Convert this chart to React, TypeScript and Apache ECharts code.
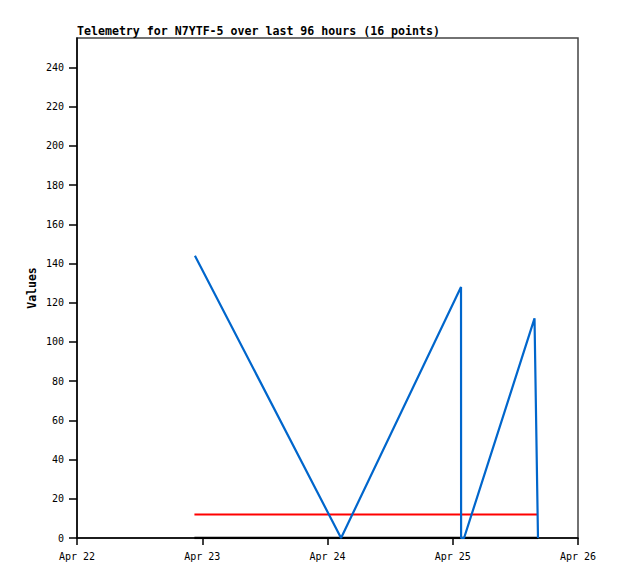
import React, { useEffect, useRef } from "react";
import * as echarts from "echarts";

const titleText = "Telemetry for N7YTF-5 over last 96 hours (16 points)";
const yAxisName = "Values";
const xMin = "2024-04-22T00:00:00Z";
const xMax = "2024-04-26T00:00:00Z";
const monthNames = ["Jan", "Feb", "Mar", "Apr", "May", "Jun", "Jul", "Aug", "Sep", "Oct", "Nov", "Dec"];

const blueTimes = [
  "2024-04-22T22:36:00Z",
  "2024-04-24T02:36:00Z",
  "2024-04-25T01:35:00Z",
  "2024-04-25T01:36:00Z",
  "2024-04-25T02:10:00Z",
  "2024-04-25T15:40:00Z",
  "2024-04-25T16:20:00Z",
];
const blueValues = [144, 0, 128, 0, 0, 112, 0];

const flatTimes = ["2024-04-22T22:30:00Z", "2024-04-25T16:20:00Z"];
const redValues = [12, 12];
const blackValues = [0, 0];

const toPairs = (times: string[], vals: number[]) => times.map((t, i) => [Date.parse(t), vals[i]]);

const DAY = 86400000;
const FONT = "DejaVu Sans Mono";

export default function App() {
  const ref = useRef<HTMLDivElement>(null);
  useEffect(() => {
    if (!ref.current) return;
    const chart = echarts.init(ref.current, null, { renderer: "svg" });
    chart.setOption({
      animation: false,
      backgroundColor: "#ffffff",
      title: {
        text: titleText,
        left: 69,
        top: 17,
        padding: 0,
        textStyle: { fontFamily: FONT, fontSize: 11.6, fontWeight: "bold", color: "#000" },
      },
      grid: { left: 69, right: 48, top: 30, bottom: 49, show: true, borderColor: "#444", borderWidth: 1.5 },
      xAxis: {
        type: "value",
        min: Date.parse(xMin),
        max: Date.parse(xMax),
        interval: DAY,
        splitLine: { show: false },
        axisLine: { lineStyle: { color: "#000", width: 1.5 } },
        axisTick: { show: true, inside: false, length: 7, lineStyle: { color: "#000", width: 1.5 } },
        axisLabel: {
          margin: 13,
          fontFamily: FONT,
          fontSize: 10,
          color: "#000",
          formatter: (v: number) => {
            const d = new Date(v);
            return monthNames[d.getUTCMonth()] + " " + d.getUTCDate();
          },
        },
      },
      yAxis: {
        type: "value",
        min: 0,
        max: 255,
        interval: 20,
        name: yAxisName,
        nameLocation: "middle",
        nameGap: 39,
        nameMoveOverlap: false,
        nameTextStyle: { fontFamily: FONT, fontSize: 11.5, fontWeight: "bold", color: "#000" },
        splitLine: { show: false },
        axisLine: { show: true, lineStyle: { color: "#000", width: 1.5 } },
        axisTick: { show: true, inside: false, length: 8, lineStyle: { color: "#000", width: 1.5 } },
        axisLabel: {
          margin: 13,
          fontFamily: FONT,
          fontSize: 10,
          color: "#000",
          showMaxLabel: false,
        },
      },
      series: [
        {
          type: "line",
          data: toPairs(flatTimes, blackValues),
          showSymbol: false,
          lineStyle: { color: "#000", width: 2.5 },
          z: 3,
        },
        {
          type: "line",
          data: toPairs(flatTimes, redValues),
          showSymbol: false,
          lineStyle: { color: "#ff0000", width: 2 },
          z: 4,
        },
        {
          type: "line",
          data: toPairs(blueTimes, blueValues),
          showSymbol: false,
          lineStyle: { color: "#0066cc", width: 2.2 },
          z: 5,
        },
      ],
    });
    return () => chart.dispose();
  }, []);
  return <div ref={ref} style={{ width: 618, height: 579 }} />;
}
